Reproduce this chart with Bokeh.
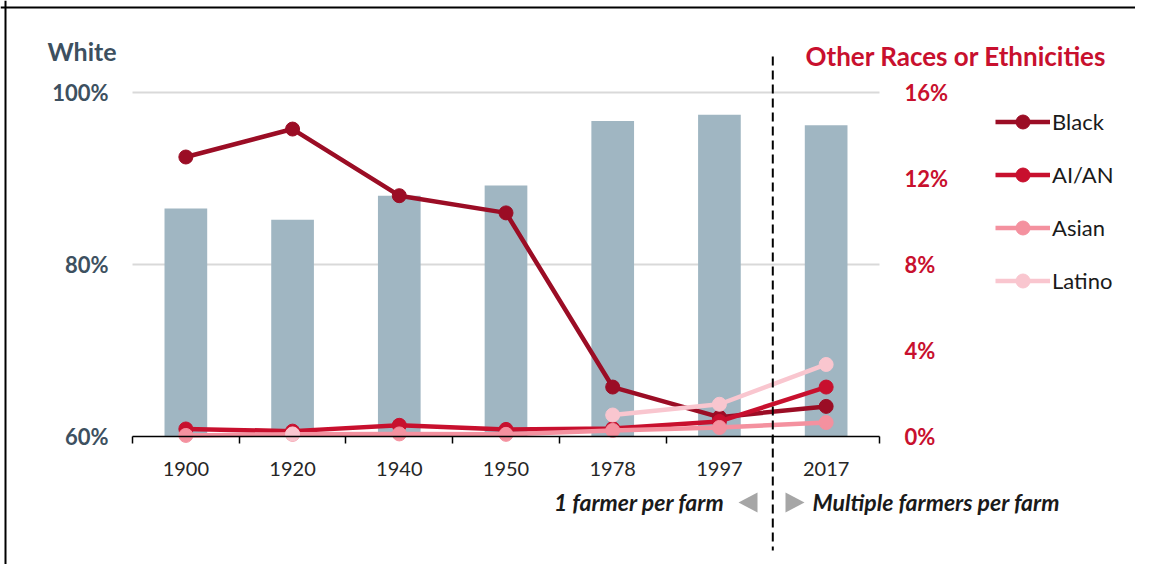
import numpy as np
from bokeh.plotting import figure
from bokeh.models import (Range1d, LinearAxis, FixedTicker, PrintfTickFormatter,
                          Legend, LegendItem, Label, PolyAnnotation, Span)
from bokeh.embed import file_html
from bokeh.resources import INLINE

# ---------------- data ----------------
years = ["1900", "1920", "1940", "1950", "1978", "1997", "2017"]
white = [86.5, 85.2, 88.0, 89.2, 96.7, 97.4, 96.2]          # left axis, %
black = [13.0, 14.3, 11.2, 10.4, 2.3, 0.9, 1.4]            # right axis, %
aian = [0.35, 0.25, 0.52, 0.33, 0.37, 0.7, 2.3]
asian = [0.05, 0.1, 0.12, 0.1, 0.28, 0.42, 0.65]
latino = [float("nan"), 0.12, float("nan"), float("nan"), 1.0, 1.5, 3.35]
left_ticks = [60, 80, 100]
right_ticks = [0, 4, 8, 12, 16]
series_names = ["Black", "AI/AN", "Asian", "Latino"]
series_vals = [black, aian, asian, latino]
series_colors = ["#9b0d25", "#c8102e", "#f4919f", "#f9c6cf"]

# ---------------- geometry (canvas pixels) ----------------
W, H = 1135, 564
FL, FR, FT, FB = 132, 879, 92, 436   # plot-area edges
N = len(years)
xc = np.arange(N) + 0.5
L0, L1 = left_ticks[0], left_ticks[-1]
R0, R1 = right_ticks[0], right_ticks[-1]


def dx(px):
    return (px - FL) / (FR - FL) * N


def dy(py):
    return L0 + (FB - py) / (FB - FT) * (L1 - L0)


def dyr(py):
    return R0 + (FB - py) / (FB - FT) * (R1 - R0)


SLATE = "#3d5060"
CRIMSON = "#c8102e"
FONT = "Lato"

p = figure(width=W, height=H, output_backend="svg", toolbar_location=None,
           x_range=Range1d(dx(0), dx(W)), y_range=Range1d(dy(H), dy(0)),
           x_axis_location=None, y_axis_location=None,
           min_border=0)
p.outline_line_color = None
p.background_fill_color = "white"
p.border_fill_color = "white"
p.extra_y_ranges = {"right": Range1d(dyr(H), dyr(0))}
p.grid.visible = False

# x axis: labels at centers, ticks at boundaries
xa = LinearAxis(fixed_location=L0, bounds=(0, N))
xa.ticker = FixedTicker(ticks=list(xc), minor_ticks=list(range(N + 1)))
xa.major_label_overrides = {float(x): y for x, y in zip(xc, years)}
xa.major_tick_line_color = None
xa.major_tick_out = 0
xa.major_tick_in = 0
xa.minor_tick_out = 7
xa.minor_tick_in = 0
xa.minor_tick_line_color = "black"
xa.minor_tick_line_width = 1.5
xa.axis_line_color = "black"
xa.axis_line_width = 1.5
xa.major_label_standoff = 18
xa.major_label_text_font = FONT
xa.major_label_text_font_size = "20px"
xa.major_label_text_color = "#262626"
p.add_layout(xa, "below")


def style_y(ax, color, standoff):
    ax.axis_line_color = None
    ax.major_tick_line_color = None
    ax.minor_tick_line_color = None
    ax.major_tick_out = 0
    ax.major_tick_in = 0
    ax.major_label_standoff = standoff
    ax.major_label_text_font = FONT
    ax.major_label_text_font_size = "22px"
    ax.major_label_text_font_style = "bold"
    ax.major_label_text_color = color


ya = LinearAxis(fixed_location=0, ticker=FixedTicker(ticks=left_ticks),
                formatter=PrintfTickFormatter(format="%d%%"))
style_y(ya, SLATE, 24)
p.add_layout(ya, "left")

ra = LinearAxis(y_range_name="right", fixed_location=N, ticker=FixedTicker(ticks=right_ticks),
                formatter=PrintfTickFormatter(format="%d%%"))
style_y(ra, CRIMSON, 25)
p.add_layout(ra, "right")

# horizontal gridlines (left-axis ticks above the baseline)
p.segment(x0=0, x1=N, y0=left_ticks[1:], y1=left_ticks[1:], line_color="#d9d9d9",
          line_width=2, level="underlay")

# bars (White)
p.vbar(x=xc, top=white, bottom=L0, width=0.4, fill_color="#a0b6c2", line_color=None)

# lines
items = []
for name, vals, col in zip(series_names, series_vals, series_colors):
    v = np.array(vals, dtype=float)
    r1 = p.line(xc, v, y_range_name="right", line_width=4.5, line_color=col)
    r2 = p.scatter(xc, v, y_range_name="right", size=14, fill_color=col, line_color=col)
    items.append(LegendItem(label=name, renderers=[r1, r2]))

legend = Legend(items=items, location=(995, H - 298), glyph_width=55, glyph_height=35,
                label_height=35, label_standoff=2, spacing=18, padding=0, margin=0,
                border_line_color=None, background_fill_alpha=0,
                label_text_font=FONT, label_text_font_size="22px",
                label_text_color="#1a1a1a")
p.add_layout(legend)

# titles
p.add_layout(Label(x=dx(47), y=dy(50), text="White", text_font=FONT,
                   text_font_size="25px", text_font_style="bold", text_color=SLATE,
                   text_baseline="middle", text_align="left"))
p.add_layout(Label(x=dx(805), y=dy(55), text="Other Races or Ethnicities", text_font=FONT,
                   text_font_size="26px", text_font_style="bold", text_color=CRIMSON,
                   text_baseline="middle", text_align="left"))

# divider between 1997 and 2017
split = N - 1
p.segment(x0=[split], x1=[split], y0=[dy(56)], y1=[dy(550)], line_color="black",
          line_width=2, line_dash="9 5")

# bottom annotations
p.add_layout(Label(x=dx(724), y=dy(501), text="1 farmer per farm", text_font=FONT,
                   text_font_size="23px", text_font_style="bold italic",
                   text_color="#1a1a1a", text_baseline="middle", text_align="right"))
p.add_layout(Label(x=dx(812), y=dy(501), text="Multiple farmers per farm", text_font=FONT,
                   text_font_size="23px", text_font_style="bold italic",
                   text_color="#1a1a1a", text_baseline="middle", text_align="left"))
p.add_layout(PolyAnnotation(xs=[dx(738), dx(757), dx(757)], ys=[dy(502), dy(492), dy(512)],
                            fill_color="#a6a6a6", fill_alpha=1, line_color=None))
p.add_layout(PolyAnnotation(xs=[dx(804), dx(785), dx(785)], ys=[dy(502), dy(492), dy(512)],
                            fill_color="#a6a6a6", fill_alpha=1, line_color=None))

# outer border (top and left edges)
p.add_layout(Span(location=dy(7), dimension="width", line_color="black", line_width=2))
p.add_layout(Span(location=dx(5), dimension="height", line_color="black", line_width=2))

open("out.html", "w").write(file_html(p, INLINE))
